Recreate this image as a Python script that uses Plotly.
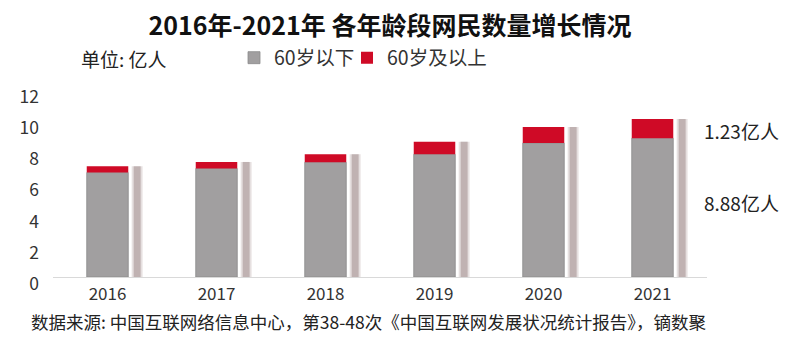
import plotly.graph_objects as go

years = ["2016", "2017", "2018", "2019", "2020", "2021"]
under60 = [6.68, 6.94, 7.34, 7.85, 8.57, 8.88]
over60 = [0.40, 0.42, 0.51, 0.81, 1.03, 1.23]
totals = [a + b for a, b in zip(under60, over60)]

FONT = "Noto Sans CJK SC, Noto Sans, sans-serif"
GRAY = "#A19FA0"
RED = "#CF0A26"
SHADOW = "rgb(192,178,178)"

fig = go.Figure()

# soft shadow beside each bar
fig.add_trace(go.Bar(x=years, y=totals, width=0.1, offset=0.222,
                     marker=dict(color="rgba(192,178,178,0.4)", line=dict(width=0)),
                     showlegend=False, hoverinfo="skip"))
fig.add_trace(go.Bar(x=years, y=totals, width=0.064, offset=0.240,
                     marker=dict(color=SHADOW, line=dict(width=0)),
                     showlegend=False, hoverinfo="skip"))

fig.add_trace(go.Bar(x=years, y=under60, name="60岁以下", width=0.381, offset=-0.1905,
                     marker=dict(color=GRAY, line=dict(color="#8C8A8B", width=0.8)),
                     legend="legend"))
fig.add_trace(go.Bar(x=years, y=over60, base=under60, name="60岁及以上", width=0.381,
                     offset=-0.1905, marker=dict(color=RED, line=dict(width=0)),
                     legend="legend2"))

legend_common = dict(orientation="h", xref="container", yref="container",
                     xanchor="left", y=1 - 58 / 349, yanchor="middle",
                     font=dict(size=19.5, color="#333333"),
                     bgcolor="rgba(0,0,0,0)")

fig.update_layout(
    width=795, height=349,
    margin=dict(l=53, r=88, t=80, b=72, autoexpand=False),
    barmode="overlay",
    plot_bgcolor="white", paper_bgcolor="white",
    font=dict(family=FONT, color="#333333"),
    title=dict(text="<b>2016年-2021年 各年龄段网民数量增长情况</b>",
               x=390 / 795, xanchor="center", y=1 - 26 / 349, yanchor="middle",
               font=dict(size=25, color="#111111", family=FONT)),
    legend=dict(x=234 / 795, **legend_common),
    legend2=dict(x=347 / 795, **legend_common),
    xaxis=dict(showline=True, linecolor="#D9D9D9", linewidth=1, showgrid=False,
               ticks="", tickfont=dict(size=17, color="#333333"),
               ticklabelstandoff=2, fixedrange=True),
    yaxis=dict(range=[0, 12.604], dtick=2, tick0=0, showgrid=False, zeroline=False,
               showline=False, ticks="", tickfont=dict(size=17.5, color="#333333"),
               ticklabelstandoff=13, ticklabelshift=7),
    annotations=[
        dict(text="单位: 亿人", xref="paper", yref="paper",
             x=(79 - 53) / 654, y=(277 - 58) / 197, xanchor="left", yanchor="middle",
             showarrow=False, font=dict(size=19, color="#222222")),
        dict(text=f"{over60[-1]:.2f}亿人", xref="paper", yref="paper",
             x=(702 - 53) / 654, y=(277 - 130) / 197, xanchor="left", yanchor="middle",
             showarrow=False, font=dict(size=19, color="#222222")),
        dict(text=f"{under60[-1]:.2f}亿人", xref="paper", yref="paper",
             x=(702 - 53) / 654, y=(277 - 202) / 197, xanchor="left", yanchor="middle",
             showarrow=False, font=dict(size=19, color="#222222")),
        dict(text="数据来源: 中国互联网络信息中心，第38-48次《中国互联网发展状况统计报告》，镝数聚",
             xref="paper", yref="paper",
             x=(29 - 53) / 654, y=(277 - 321) / 197, xanchor="left", yanchor="middle",
             showarrow=False, font=dict(size=17.5, color="#222222")),
    ],
)

fig.write_html("out.html")
